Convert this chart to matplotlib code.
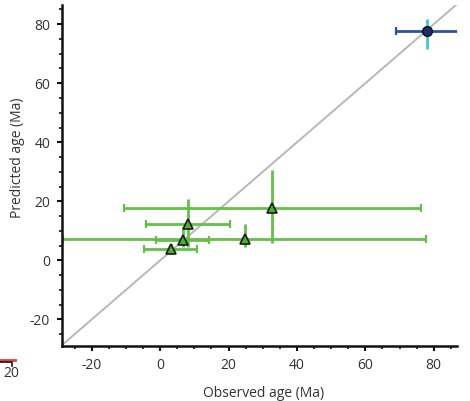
import matplotlib
matplotlib.use("Agg")
import matplotlib.pyplot as plt
from matplotlib.lines import Line2D
from matplotlib.ticker import MultipleLocator

plt.rcParams['font.family'] = ['Open Sans', 'DejaVu Sans']
plt.rcParams['axes.unicode_minus'] = False

# green triangles (observed vs predicted)
obs = [32.8, 8.2, 6.6, 3.1, 24.7]
pred = [17.7, 12.2, 6.9, 3.7, 7.2]
obs_err = [43.5, 12.3, 7.8, 7.8, 53.0]
pred_err_lo = [11.9, 7.5, 2.4, 1.7, 2.7]
pred_err_hi = [12.9, 8.5, 4.4, 1.7, 5.0]

# blue point
blue_obs = [78.1]
blue_pred = [77.6]
blue_obs_err = [9.2]
blue_pred_lo = [5.9]
blue_pred_hi = [4.1]

xlim = (-28.7, 86.8)
ylim = (-28.9, 86.5)

green = '#66bf4a'
text_col = '#333333'

fig = plt.figure(figsize=(4.7, 4.01), dpi=100)
ax = fig.add_axes([0.1319, 0.1379, 0.8404, 0.8496])

ax.plot([xlim[0], 87], [xlim[0], 87], color='#b8b8b8', lw=1.4, zorder=1)

# green error bars
ax.errorbar(obs, pred, xerr=obs_err, fmt='none', ecolor=green, elinewidth=2,
            capsize=3, capthick=1.6, zorder=2)
ax.errorbar(obs, pred, yerr=[pred_err_lo, pred_err_hi], fmt='none', ecolor=green,
            elinewidth=2, capsize=0, zorder=2)
ax.plot(obs, pred, '^', ms=7, mfc='#4caf3a', mec='#1a1a1a', mew=1.2, ls='none', zorder=3)

# blue point
ax.errorbar(blue_obs, blue_pred, xerr=blue_obs_err, fmt='none', ecolor='#2a52a0',
            elinewidth=2, capsize=3, capthick=1.6, zorder=2)
ax.errorbar(blue_obs, blue_pred, yerr=[blue_pred_lo, blue_pred_hi], fmt='none',
            ecolor='#45c6d6', elinewidth=2, capsize=0, zorder=2)
ax.plot(blue_obs, blue_pred, 'o', ms=7, mfc='#1f2d6b', mec='#111111', mew=1, zorder=4)

ax.set_xlim(*xlim)
ax.set_ylim(*ylim)
ax.spines['top'].set_visible(False)
ax.spines['right'].set_visible(False)
for s in ('left', 'bottom'):
    ax.spines[s].set_linewidth(1.8)
    ax.spines[s].set_color('#111111')

ax.xaxis.set_major_locator(MultipleLocator(20))
ax.xaxis.set_minor_locator(MultipleLocator(5))
ax.yaxis.set_major_locator(MultipleLocator(20))
ax.yaxis.set_minor_locator(MultipleLocator(5))
ax.tick_params(which='major', direction='out', length=3.5, width=1.5,
               color='#111111', labelsize=10, labelcolor=text_col, pad=5)
ax.tick_params(which='minor', direction='out', length=2, width=1.2, color='#111111')

ax.set_xlabel('Observed age (Ma)', fontsize=10, color=text_col)
ax.set_ylabel('Predicted age (Ma)', fontsize=10, color=text_col)
ax.xaxis.set_label_coords(0.511, -0.118)
ax.yaxis.set_label_coords(-0.094, 0.551)

# stray fragment at bottom left
fig.add_artist(Line2D([0, 0.031], [0.1015, 0.1015], color='#e8403c', lw=2))
fig.add_artist(Line2D([0, 0.026, 0.026], [0.097, 0.097, 0.087], color='#111111', lw=1.2))
fig.text(0.024, 0.068, '20', fontsize=10, color=text_col, ha='center', va='center')

fig.savefig('out.png', dpi=100)
